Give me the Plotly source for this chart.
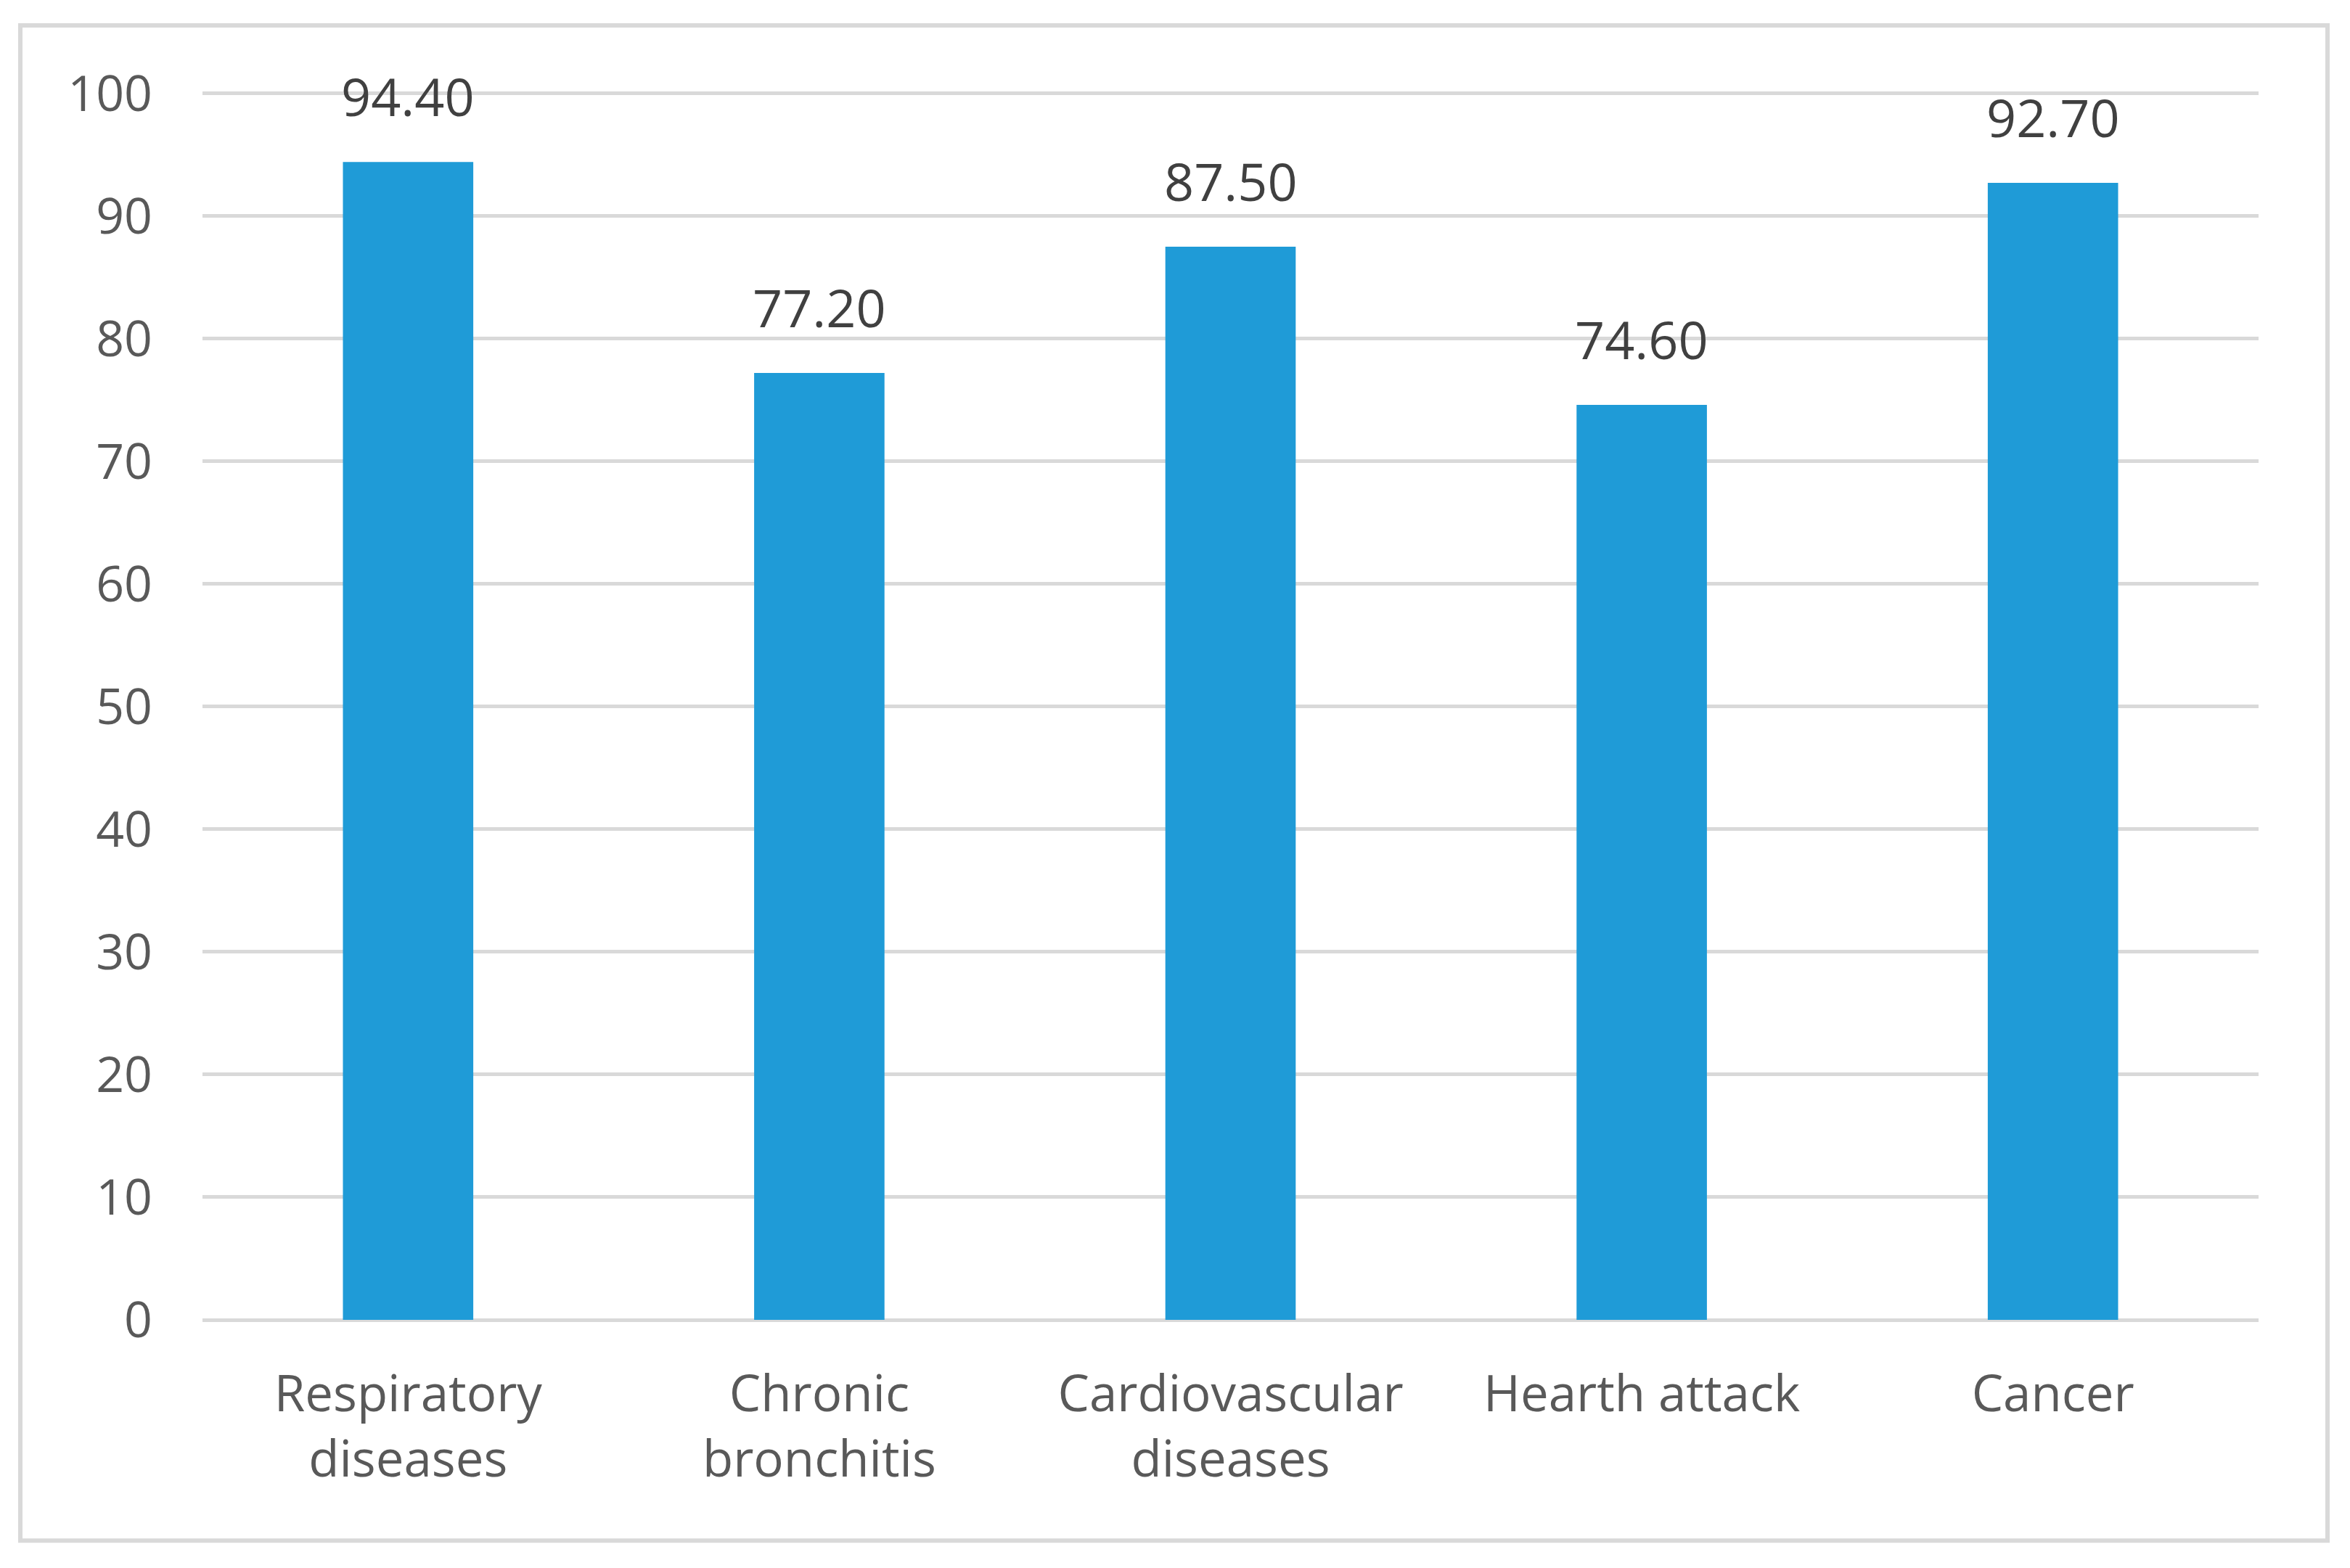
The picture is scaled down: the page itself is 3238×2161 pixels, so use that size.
import plotly.graph_objects as go

categories = ["Respiratory<br>diseases", "Chronic<br>bronchitis", "Cardiovascular<br>diseases", "Hearth attack", "Cancer"]
values = [94.40, 77.20, 87.50, 74.60, 92.70]
y_ticks = [0, 10, 20, 30, 40, 50, 60, 70, 80, 90, 100]

W, H = 3238, 2161
L, R, T, B = 279, 3112, 128, 1819  # plot area in pixels
BAR_COLOR = "#1F9BD7"
GRID = "#D9D9D9"
FONT = "Open Sans"

fig = go.Figure(go.Bar(x=categories, y=values, marker_color=BAR_COLOR, marker_line_width=0))

for c, v in zip(categories, values):
    fig.add_annotation(x=c, y=v, text=f"{v:.2f}", showarrow=False, yanchor="bottom",
                       yshift=40, font=dict(family=FONT, size=72, color="#404040"))

pw, ph = R - L, B - T
def px(x): return (x - L) / pw
def py(y): return (B - y) / ph
fig.add_shape(type="rect", xref="paper", yref="paper",
              x0=px(28), x1=px(3207), y0=py(2123), y1=py(36),
              line=dict(color=GRID, width=6), fillcolor="rgba(0,0,0,0)", layer="below")

fig.update_layout(
    width=W, height=H, autosize=False,
    margin=dict(l=L, r=W - R, t=T - 1, b=H - B, pad=0),
    paper_bgcolor="white", plot_bgcolor="white",
    bargap=0.683, showlegend=False,
    font=dict(family=FONT, size=68, color="#595959"),
)
fig.update_yaxes(range=[0, 100.1], tickvals=y_ticks, showgrid=True, gridcolor=GRID, gridwidth=5,
                 zeroline=True, zerolinecolor=GRID, zerolinewidth=5, showline=False,
                 ticks="", ticklabelstandoff=68, tickfont=dict(size=68))
fig.update_xaxes(showgrid=False, showline=False, ticks="", ticklabelstandoff=56,
                 tickfont=dict(size=69))

fig.write_html("out.html", config={"displayModeBar": False},
               post_script="document.body.style.margin='0';")
